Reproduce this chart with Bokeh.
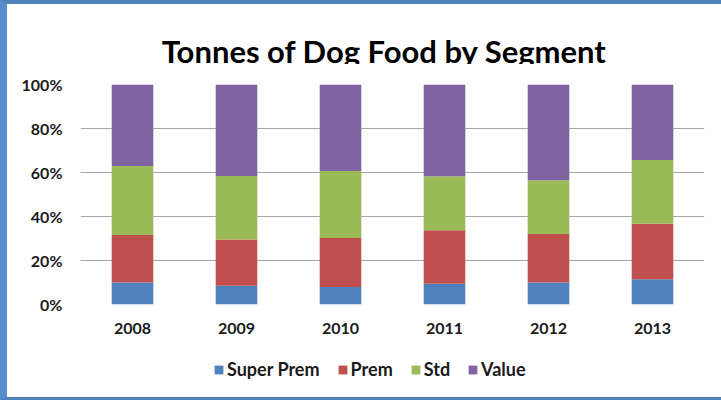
from bokeh.plotting import figure
from bokeh.layouts import column
from bokeh.models import (ColumnDataSource, FactorRange, Range1d, NumeralTickFormatter,
                          Legend, LegendItem, FixedTicker)
from bokeh.core.properties import value
from bokeh.embed import file_html
from bokeh.resources import INLINE

title_text = "Tonnes of Dog Food by Segment"
years = ["2008", "2009", "2010", "2011", "2012", "2013"]
segments = ["Super Prem", "Prem", "Std", "Value"]
super_prem = [0.100, 0.085, 0.079, 0.094, 0.100, 0.115]
prem = [0.216, 0.211, 0.223, 0.243, 0.221, 0.252]
std = [0.314, 0.288, 0.305, 0.246, 0.244, 0.290]
value_seg = [0.370, 0.416, 0.393, 0.417, 0.435, 0.343]
colors = ["#4F81BD", "#C0504D", "#9BBB59", "#8064A2"]
y_ticks = [0, 0.2, 0.4, 0.6, 0.8, 1.0]

FONT = "Lato"

source = ColumnDataSource(dict(year=years, **{
    "Super Prem": super_prem, "Prem": prem, "Std": std, "Value": value_seg}))

# Header strip with the chart title (frame aligned with the main plot frame)
hf = figure(title=None, x_range=Range1d(0, 624), y_range=Range1d(0, 60), width=714, height=60,
            output_backend="svg", toolbar_location=None,
            min_border_left=73, min_border_right=17, min_border_top=0, min_border_bottom=0,
            x_axis_location=None, y_axis_location=None)
hf.outline_line_color = None
hf.xgrid.grid_line_color = None
hf.ygrid.grid_line_color = None
hf.background_fill_color = "white"
hf.border_fill_color = "white"
hf.text(x=[304], y=[14], text=[title_text], text_font=value(FONT), text_font_size="31px",
        text_font_style="bold", text_color="#000000", text_align="center",
        text_baseline="alphabetic")

p = figure(title=None, x_range=FactorRange(*years, range_padding=0), y_range=Range1d(0, 1),
           width=714, height=281, output_backend="svg", toolbar_location=None,
           min_border_left=73, min_border_right=17, min_border_top=20, min_border_bottom=41)

renderers = p.vbar_stack(segments, x="year", width=0.4, color=colors, source=source,
                         line_color=None)

p.outline_line_color = None
p.background_fill_color = "white"
p.border_fill_color = "white"

p.xgrid.grid_line_color = None
p.ygrid.grid_line_color = "#A6A6A6"
p.ygrid.grid_line_width = 1
p.ygrid.ticker = FixedTicker(ticks=y_ticks)

p.yaxis.ticker = FixedTicker(ticks=y_ticks)
p.yaxis.formatter = NumeralTickFormatter(format="0%")
p.yaxis.axis_line_color = None
p.yaxis.major_tick_line_color = None
p.yaxis.minor_tick_line_color = None
p.yaxis.major_label_standoff = 12
p.yaxis.major_label_text_font = FONT
p.yaxis.major_label_text_font_size = "16px"
p.yaxis.major_label_text_font_style = "bold"
p.yaxis.major_label_text_color = "#1a1a1a"

p.xaxis.axis_line_color = None
p.xaxis.major_tick_line_color = None
p.xaxis.major_label_standoff = 12
p.xaxis.major_label_text_font = FONT
p.xaxis.major_label_text_font_size = "16px"
p.xaxis.major_label_text_font_style = "bold"
p.xaxis.major_label_text_color = "#1a1a1a"

# Legend strip: same series drawn out of view, only its legend is visible
lf = figure(title=None, x_range=FactorRange(*years, range_padding=0), y_range=Range1d(10, 11),
            width=714, height=52, output_backend="svg", toolbar_location=None,
            min_border_left=73, min_border_right=17, min_border_top=0, min_border_bottom=0,
            x_axis_location=None, y_axis_location=None)
lf.outline_line_color = None
lf.xgrid.grid_line_color = None
lf.ygrid.grid_line_color = None
lf.background_fill_color = "white"
lf.border_fill_color = "white"
lrend = lf.vbar_stack(segments, x="year", width=0.4, color=colors, source=source,
                      line_color=None)
legend = Legend(items=[LegendItem(label=s, renderers=[r]) for s, r in zip(segments, lrend)],
                orientation="horizontal", location=(133, 17),
                label_text_font=FONT, label_text_font_size="18px", label_text_font_style="bold",
                label_text_color="#1a1a1a", glyph_width=11, glyph_height=11,
                label_standoff=3, spacing=17, border_line_color=None,
                background_fill_alpha=0, margin=0, padding=0)
lf.add_layout(legend)

layout = column(hf, p, lf, spacing=0, styles={
    "border-left": "7px solid #5A8BCB",
    "border-top": "4px solid #4F81BD",
    "border-bottom": "3px solid #4F81BD",
})

open("out.html", "w").write(file_html(layout, INLINE))
